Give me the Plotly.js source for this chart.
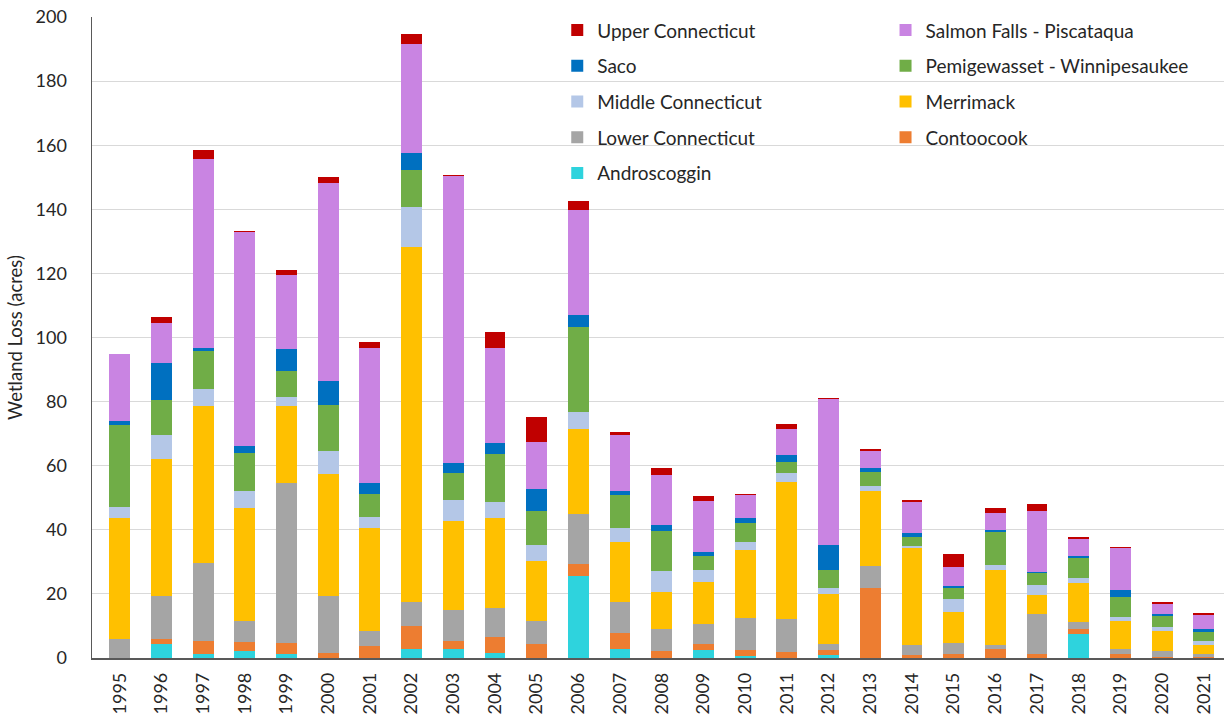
<!DOCTYPE html>
<html>
<head>
<meta charset="utf-8">
<script src="https://cdn.plot.ly/plotly-3.0.1.min.js"></script>
<style>html,body{margin:0;padding:0;background:#fff;}#chart{width:1231px;height:728px;}</style>
</head>
<body>
<div id="chart"></div>
<script>
const years = [1995,1996,1997,1998,1999,2000,2001,2002,2003,2004,2005,2006,2007,2008,2009,2010,2011,2012,2013,2014,2015,2016,2017,2018,2019,2020,2021];
const yearLabels = years.map(String);

const androscoggin = [0,4.5,1.2,2.2,1.4,0,0,2.7,2.7,1.6,0,25.5,2.9,0,2.4,0.5,0,0.8,0,0,0,0,0,7.4,0,0,0];
const contoocook = [0,1.5,4.1,2.8,3.3,1.6,3.7,7.2,2.6,4.8,4.3,3.7,4.9,2.2,2.1,2.0,1.9,1.6,21.9,0.8,1.4,2.9,1.2,1.8,1.2,0.3,0.4];
const lowerConnecticut = [6,13.2,24.2,6.6,49.8,17.7,4.7,7.6,9.8,9.2,7.3,15.6,9.7,7.0,6.0,9.9,10.2,2.1,6.85,3.4,3.4,1.1,12.45,2.05,1.7,1.9,0.8];
const merrimack = [37.6,43,49.2,35.1,24.2,38.1,32.2,110.7,27.7,28,18.7,26.6,18.75,11.4,13.25,21.4,42.9,15.4,23.45,30,9.4,23.6,5.95,12,8.7,6.1,3];
const middleConnecticut = [3.6,7.3,5.2,5.5,2.7,7.3,3.3,12.4,6.5,5.15,5.1,5.5,4.2,6.6,3.85,2.35,2.8,1.8,1.5,0.8,4.1,1.4,3.3,1.85,1.2,1.4,1.1];
const pemigewasset = [25.5,11.1,11.9,11.9,8,14.3,7.3,11.8,8.5,14.9,10.5,26.3,10.4,12.5,4.2,5.95,3.45,5.9,4.4,2.6,3.4,10.4,3.7,5.95,6.3,3.3,2.8];
const saco = [1.1,11.5,0.9,2.1,7,7.5,3.5,5.2,3.1,3.5,6.7,3.9,1.4,1.8,1.3,1.7,2.05,7.8,1.1,1.5,0.7,0.5,0.3,0.75,2.1,0.65,0.8];
const salmonFalls = [20.9,12.5,59,66.7,23,61.7,42,33.9,89.4,29.5,14.9,32.6,17.4,15.6,15.9,7.2,8.1,45.35,5.5,9.65,6,5.4,19,5.2,13,3.35,4.65];
const upperConnecticut = [0.3,1.9,2.7,0.4,1.8,1.8,2,3.3,0.3,5,7.6,2.8,1,2.1,1.6,0.3,1.6,0.4,0.4,0.4,4.2,1.6,2.1,0.6,0.3,0.5,0.45];

const yTicks = [0,20,40,60,80,100,120,140,160,180,200];

const series = [
  {name:'Androscoggin', y:androscoggin, color:'#2ED3DD', legend:'legend'},
  {name:'Contoocook', y:contoocook, color:'#ED7D31', legend:'legend2'},
  {name:'Lower Connecticut', y:lowerConnecticut, color:'#A5A5A5', legend:'legend'},
  {name:'Merrimack', y:merrimack, color:'#FFC000', legend:'legend2'},
  {name:'Middle Connecticut', y:middleConnecticut, color:'#B4C7E7', legend:'legend'},
  {name:'Pemigewasset - Winnipesaukee', y:pemigewasset, color:'#70AD47', legend:'legend2'},
  {name:'Saco', y:saco, color:'#0070C0', legend:'legend'},
  {name:'Salmon Falls - Piscataqua', y:salmonFalls, color:'#C984E2', legend:'legend2'},
  {name:'Upper Connecticut', y:upperConnecticut, color:'#C00000', legend:'legend'}
];

const traces = series.map((s, i) => ({
  type:'bar', x:years, y:s.y, name:s.name, legend:s.legend, legendgroup:'g'+i,
  legendrank: 100 - i,
  marker:{color:s.color, line:{width:0}}, width:0.5
}));

const font = {family:'Lato, "Open Sans", sans-serif', color:'#404040'};
const legendFont = {family:'Lato, "Open Sans", sans-serif', size:19, color:'#262626'};

const layout = {
  width:1231, height:728,
  margin:{l:92, r:7, t:17, b:70},
  paper_bgcolor:'#fff', plot_bgcolor:'#fff',
  barmode:'stack',
  font:font,
  xaxis:{
    range:[1994.336, 2021.484], tickmode:'array', tickvals:years, ticktext:yearLabels,
    tickangle:-90, tickfont:{size:18, color:'#262626'}, showgrid:false,
    showline:true, linecolor:'#595959', linewidth:1.5, ticks:'outside', ticklen:6, tickcolor:'rgba(0,0,0,0)',
    zeroline:false, fixedrange:true
  },
  yaxis:{
    range:[0,200], tickmode:'array', tickvals:yTicks, ticktext:yTicks.map(String),
    tickfont:{size:18, color:'#262626'}, gridcolor:'#d9d9d9', gridwidth:1,
    showline:true, linecolor:'#595959', linewidth:1.5, zeroline:false,
    ticks:'outside', ticklen:20, tickcolor:'rgba(0,0,0,0)',
    title:{text:'Wetland Loss (acres)', font:{size:18.5, color:'#262626'}, standoff:8}
  },
  legend:{
    x:0.411, xanchor:'left', y:1.009, yanchor:'top', orientation:'v',
    traceorder:'grouped', tracegroupgap:8, font:legendFont,
    bgcolor:'rgba(0,0,0,0)', borderwidth:0
  },
  legend2:{
    x:0.701, xanchor:'left', y:1.009, yanchor:'top', orientation:'v',
    traceorder:'grouped', tracegroupgap:8, font:legendFont,
    bgcolor:'rgba(0,0,0,0)', borderwidth:0
  },
  showlegend:true
};

Plotly.newPlot('chart', traces, layout, {displayModeBar:false, staticPlot:true});
</script>
</body>
</html>
